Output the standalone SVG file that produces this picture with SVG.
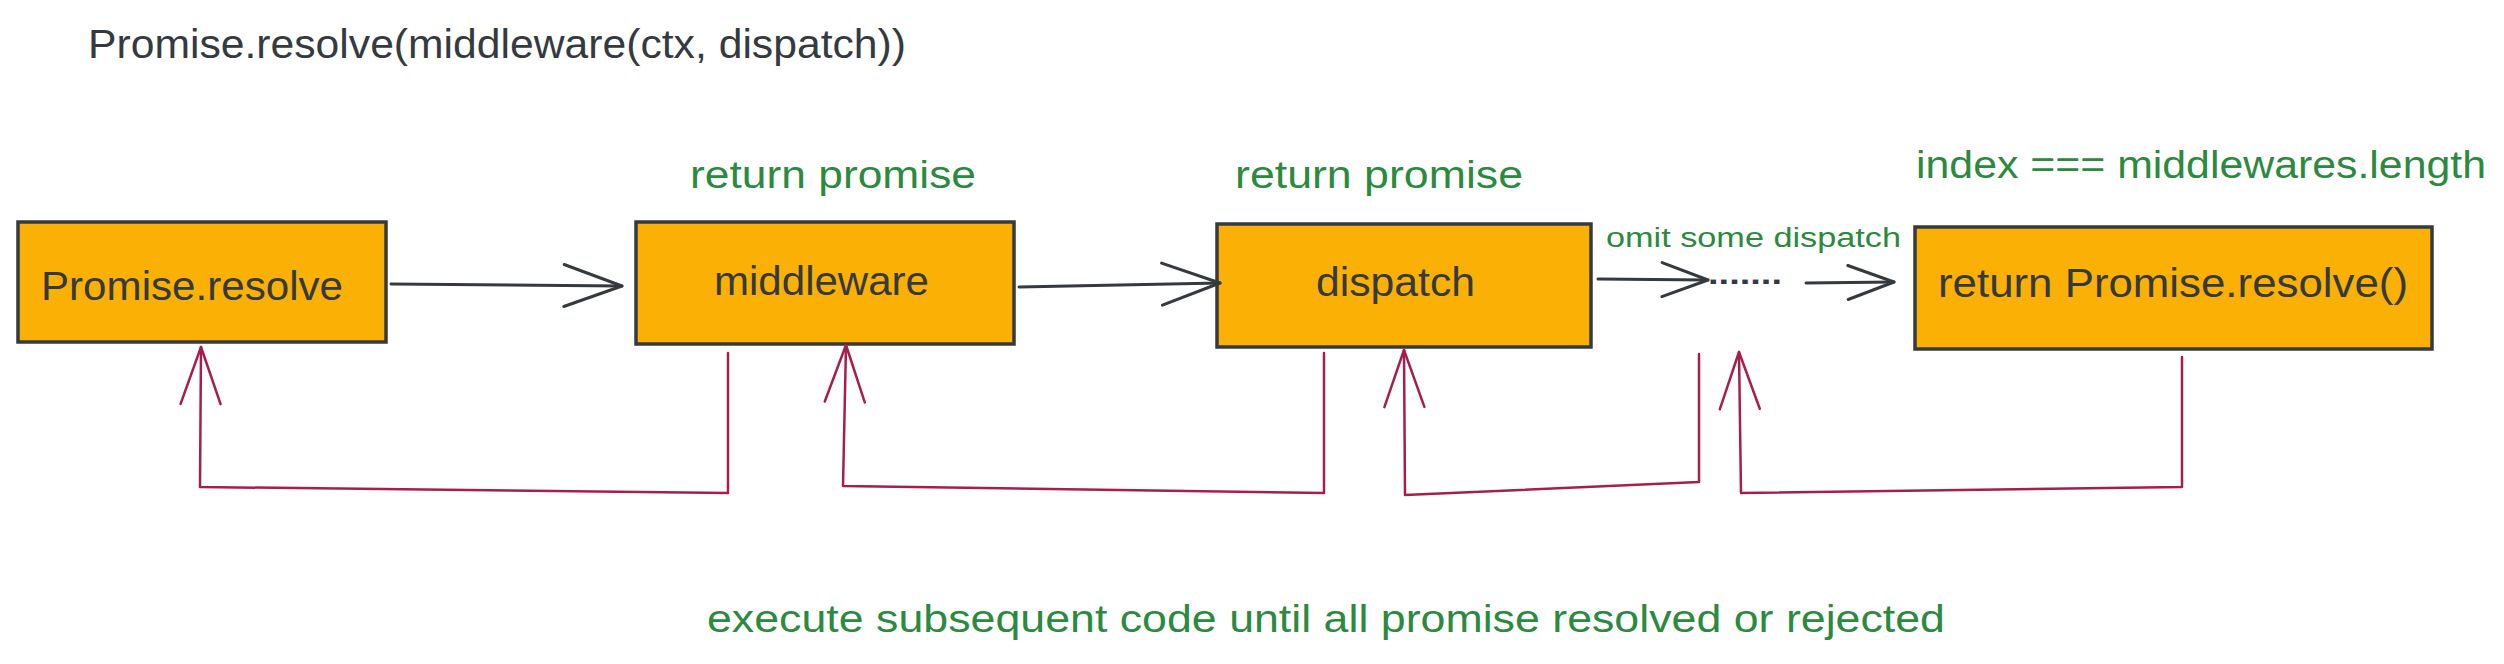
<svg xmlns="http://www.w3.org/2000/svg" width="2504" height="664" viewBox="0 0 2504 664">
<style>
  .bg{fill:#ffffff}
  .box{fill:#fab005;stroke:#343a40;stroke-width:3.5}
  .edge{fill:none;stroke:#343a40;stroke-width:3;stroke-linecap:round;stroke-linejoin:round}
  .back{fill:none;stroke:#a61e4d;stroke-width:2.5;stroke-linecap:round;stroke-linejoin:round}
  .t{font-family:"Liberation Sans Narrow","Liberation Sans",Arial,sans-serif;fill:#343a40}
  .g{font-family:"Liberation Sans Narrow","Liberation Sans",Arial,sans-serif;fill:#2b8a3e}
</style>
<defs>
  <marker id="ah" markerUnits="userSpaceOnUse" viewBox="-62 -26 66 52" markerWidth="66" markerHeight="52" refX="0" refY="0" orient="auto" overflow="visible">
    <path d="M-58,-21 L0,0 L-58,21" fill="none" stroke="#343a40" stroke-width="3" stroke-linecap="round" stroke-linejoin="round"/>
  </marker>
  <marker id="ahs" markerUnits="userSpaceOnUse" viewBox="-62 -26 66 52" markerWidth="66" markerHeight="52" refX="0" refY="0" orient="auto" overflow="visible">
    <path d="M-46,-17 L0,0 L-46,17" fill="none" stroke="#343a40" stroke-width="3" stroke-linecap="round" stroke-linejoin="round"/>
  </marker>
  <marker id="ahr" markerUnits="userSpaceOnUse" viewBox="-62 -26 66 52" markerWidth="66" markerHeight="52" refX="0" refY="0" orient="auto" overflow="visible">
    <path d="M-57,-20 L0,0 L-57,20" fill="none" stroke="#a61e4d" stroke-width="2.5" stroke-linecap="round" stroke-linejoin="round"/>
  </marker>
</defs>
<rect class="bg" x="0" y="0" width="2504" height="664"/>

<g id="title">
  <text class="t" x="88" y="58" font-size="40" textLength="818" lengthAdjust="spacingAndGlyphs">Promise.resolve(middleware(ctx, dispatch))</text>
</g>

<g id="node-promise-resolve">
  <rect class="box" x="18" y="222" width="368" height="120"/>
  <text class="t" x="41" y="300" font-size="40" textLength="302" lengthAdjust="spacingAndGlyphs">Promise.resolve</text>
</g>

<g id="node-middleware">
  <text class="g" x="690" y="188" font-size="38" textLength="286" lengthAdjust="spacingAndGlyphs">return promise</text>
  <rect class="box" x="636" y="222" width="378" height="122"/>
  <text class="t" x="714" y="295" font-size="40" textLength="215" lengthAdjust="spacingAndGlyphs">middleware</text>
</g>

<g id="node-dispatch">
  <text class="g" x="1235" y="188" font-size="38" textLength="288" lengthAdjust="spacingAndGlyphs">return promise</text>
  <rect class="box" x="1217" y="224" width="374" height="123"/>
  <text class="t" x="1316" y="296" font-size="40" textLength="159" lengthAdjust="spacingAndGlyphs">dispatch</text>
</g>

<g id="node-omitted">
  <text class="g" x="1606" y="247" font-size="27" textLength="295" lengthAdjust="spacingAndGlyphs">omit some dispatch</text>
  <text class="t" x="1708" y="284" font-size="30" font-weight="bold" textLength="74" lengthAdjust="spacingAndGlyphs">.......</text>
</g>

<g id="node-final">
  <text class="g" x="1916" y="178" font-size="38" textLength="570" lengthAdjust="spacingAndGlyphs">index === middlewares.length</text>
  <rect class="box" x="1915" y="227" width="517" height="122"/>
  <text class="t" x="1938" y="297" font-size="40" textLength="470" lengthAdjust="spacingAndGlyphs">return Promise.resolve()</text>
</g>

<g id="footer">
  <text class="g" x="707" y="632" font-size="38" textLength="1238" lengthAdjust="spacingAndGlyphs">execute subsequent code until all promise resolved or rejected</text>
</g>

<g id="connectors">
  <path class="edge" d="M391,284 L622,286" marker-end="url(#ah)"/>
  <path class="edge" d="M1019,287 L1220,283" marker-end="url(#ah)"/>
  <path class="edge" d="M1598,279 L1708,280" marker-end="url(#ahs)"/>
  <path class="edge" d="M1806,283 L1894,282" marker-end="url(#ahs)"/>

  <path class="back" d="M728,353 L728,493 L200,487 L201,347" marker-end="url(#ahr)"/>
  <path class="back" d="M1324,353 L1324,493 L843,486 L846,345" marker-end="url(#ahr)"/>
  <path class="back" d="M1699,354 L1699,482 L1405,495 L1404,350" marker-end="url(#ahr)"/>
  <path class="back" d="M2182,357 L2182,487 L1741,493 L1739,352" marker-end="url(#ahr)"/>
</g>
</svg>
